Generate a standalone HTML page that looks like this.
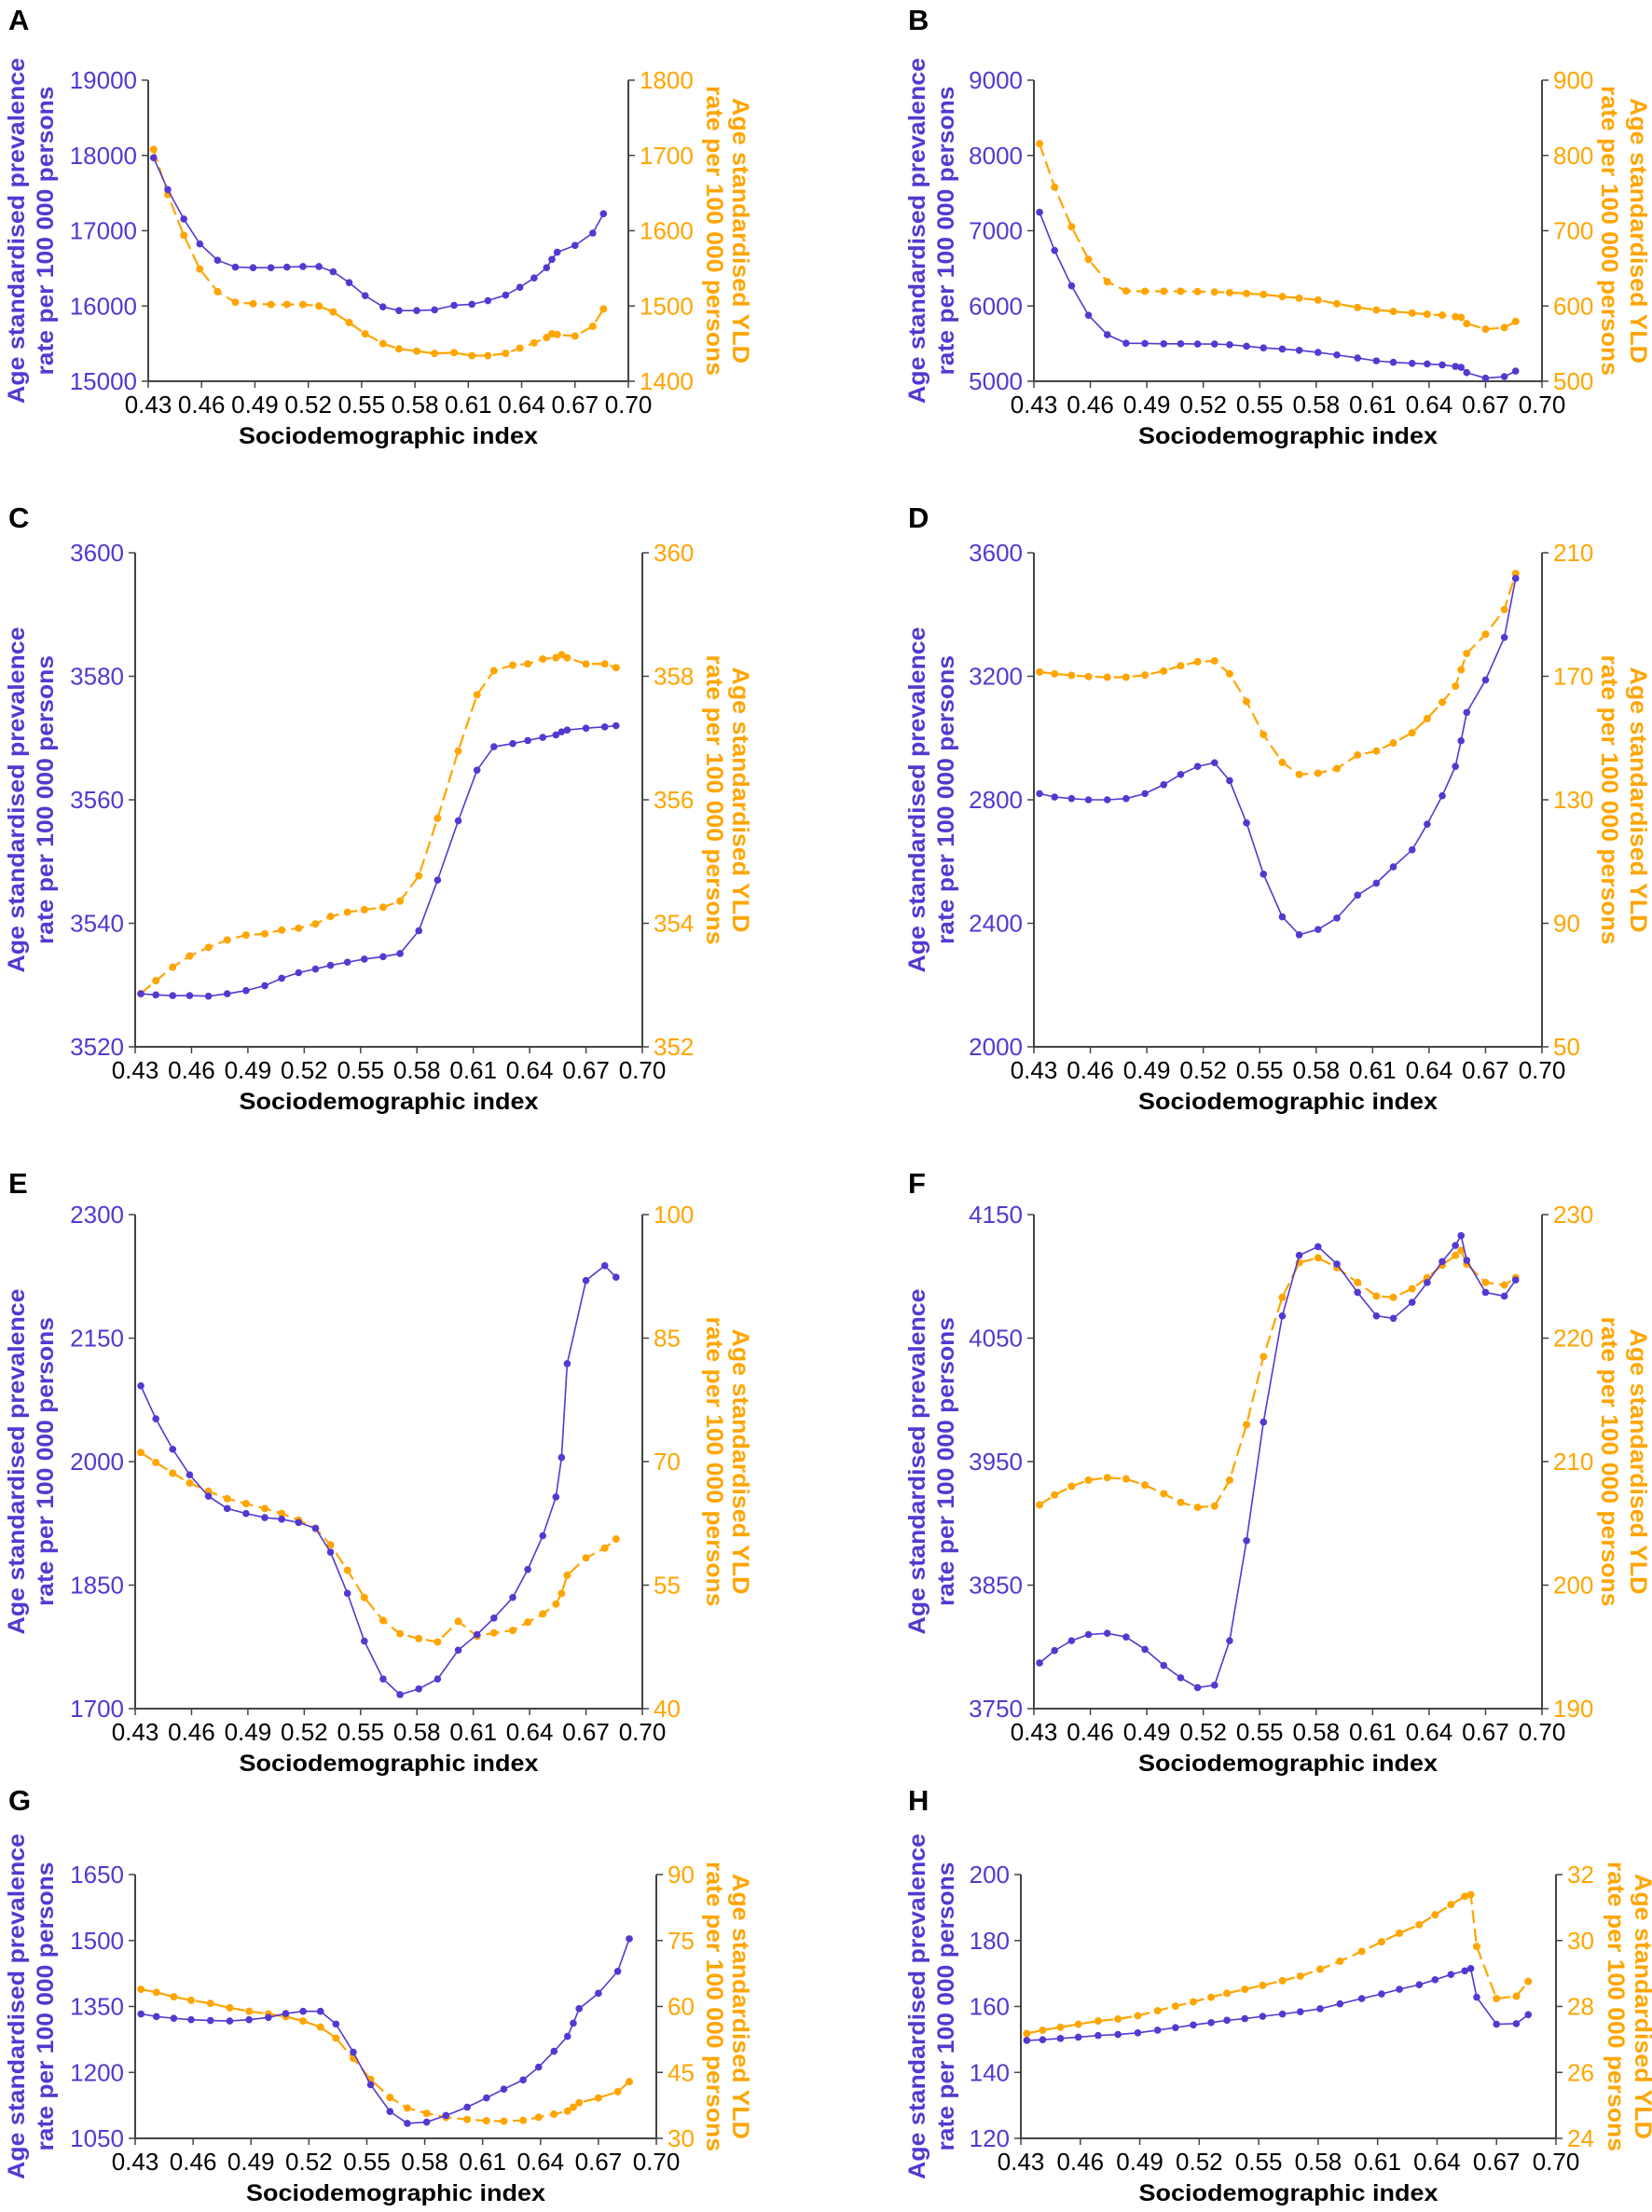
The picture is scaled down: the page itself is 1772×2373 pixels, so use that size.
<!DOCTYPE html>
<html><head><meta charset="utf-8">
<style>
html,body{margin:0;padding:0;background:#fff;}
svg{display:block;font-family:"Liberation Sans",Arial,sans-serif;}
</style></head>
<body>
<svg id="fig" width="1772" height="2373" viewBox="0 0 1772 2373" xmlns="http://www.w3.org/2000/svg"></svg>
<script>
// Shared x values (sociodemographic index)
const sdi=[0.433,0.441,0.450,0.459,0.469,0.479,0.489,0.499,0.508,0.517,0.526,0.534,0.543,0.552,0.562,0.571,0.581,0.591,0.602,0.612,0.621,0.631,0.639,0.647,0.654,0.657,0.660,0.670,0.680,0.686];
const xTicks=[0.43,0.46,0.49,0.52,0.55,0.58,0.61,0.64,0.67,0.70];
const xTickLabels=["0.43","0.46","0.49","0.52","0.55","0.58","0.61","0.64","0.67","0.70"];

// Panel A
const prevA=[17970,17546,17155,16825,16607,16517,16508,16508,16517,16524,16524,16455,16310,16137,15989,15939,15939,15948,16009,16022,16071,16145,16248,16372,16508,16619,16714,16804,16969,17225];
const yldA=[1708,1648,1594,1549,1519,1505,1503,1502,1502,1502,1500,1492,1478,1463,1450,1443,1440,1437,1438,1434,1434,1437,1444,1451,1458,1463,1462,1460,1473,1496];
const leftTicksA=[15000,16000,17000,18000,19000];
const rightTicksA=[1400,1500,1600,1700,1800];
// Panel B
const prevB=[7245,6738,6268,5877,5618,5506,5502,5498,5498,5494,5494,5486,5465,5444,5428,5411,5383,5350,5309,5271,5251,5238,5230,5218,5197,5185,5115,5041,5061,5135];
const yldB=[815.6,757.9,705.2,661.9,632.2,619.9,619.5,619.5,619.5,619.1,618.6,617.8,616.6,615.3,612.5,610.4,607.9,603,598,594.8,592.7,590.6,589,587.7,585.7,584.9,576.6,569.2,571.3,579.5];
const leftTicksB=[5000,6000,7000,8000,9000];
const rightTicksB=[500,600,700,800,900];
// Panel C
const prevC=[3528.6,3528.4,3528.3,3528.3,3528.2,3528.6,3529.1,3529.9,3531.1,3532.0,3532.6,3533.2,3533.7,3534.2,3534.6,3535.1,3538.8,3547.0,3556.6,3564.8,3568.6,3569.1,3569.6,3570.1,3570.5,3571.0,3571.3,3571.6,3571.8,3572.0];
const yldC=[352.86,353.07,353.29,353.47,353.61,353.73,353.81,353.83,353.89,353.92,353.99,354.11,354.18,354.22,354.26,354.36,354.77,355.70,356.79,357.70,358.09,358.18,358.20,358.28,358.30,358.35,358.30,358.20,358.20,358.14];
const leftTicksC=[3520,3540,3560,3580,3600];
const rightTicksC=[352,354,356,358,360];
// Panel D
const prevD=[2820,2809,2804,2800,2800,2804,2820,2849,2882,2908,2920,2862,2725,2559,2421,2363,2380,2417,2491,2530,2583,2638,2721,2813,2908,2991,3083,3188,3326,3517];
const yldD=[171.4,170.8,170.3,169.9,169.7,169.7,170.4,171.7,173.4,174.7,175.0,170.8,161.8,151.1,142.1,138.2,138.6,140.1,144.5,145.8,148.4,151.7,156.3,161.6,166.8,172.1,177.4,183.6,191.6,203.3];
const leftTicksD=[2000,2400,2800,3200,3600];
const rightTicksD=[50,90,130,170,210];
// Panel E
const prevE=[2092,2052,2015,1984,1958,1943,1937,1932,1930,1926,1919,1890,1840,1782,1736,1717,1724,1736,1771,1790,1810,1835,1869,1910,1957,2005,2119,2220,2238,2224];
const yldE=[71.1,69.9,68.6,67.4,66.4,65.5,64.9,64.3,63.7,62.9,61.9,59.9,56.8,53.5,50.7,49.1,48.5,48.1,50.6,48.8,49.2,49.5,50.5,51.5,52.7,54.0,56.2,58.3,59.5,60.6];
const leftTicksE=[1700,1850,2000,2150,2300];
const rightTicksE=[40,55,70,85,100];
// Panel F
const prevF=[3787,3797,3805,3810,3811,3808,3798,3785,3775,3767,3769,3805,3886,3982,4068,4117,4124,4110,4087,4068,4066,4079,4095,4112,4125,4133,4113,4087,4084,4097];
const yldF=[206.5,207.3,208.0,208.5,208.7,208.6,208.1,207.4,206.7,206.3,206.4,208.5,213.0,218.5,223.3,226.1,226.5,225.7,224.5,223.4,223.3,224.0,224.9,225.9,226.7,227.1,226.0,224.5,224.3,224.9];
const leftTicksF=[3750,3850,3950,4050,4150];
const rightTicksF=[190,200,210,220,230];
// Panel G
const prevG=[1333,1327,1323,1320,1318,1317,1320,1325,1334,1339,1339,1310,1246,1172,1111,1084,1087,1102,1121,1142,1162,1183,1212,1248,1282,1312,1345,1380,1430,1504];
const yldG=[63.9,63.2,62.2,61.4,60.7,59.7,58.9,58.3,57.7,56.7,55.3,52.8,48.2,43.4,39.3,36.9,35.7,34.8,34.3,34.0,33.9,34.1,34.8,35.5,36.2,37.1,38.1,39.2,40.6,42.9];
const leftTicksG=[1050,1200,1350,1500,1650];
const rightTicksG=[30,45,60,75,90];
// Panel H
const prevH=[149.7,149.9,150.3,150.7,151.2,151.5,152.0,152.8,153.6,154.4,155.1,155.8,156.3,157.0,157.7,158.4,159.3,160.8,162.4,163.8,165.2,166.6,168.1,169.7,170.8,171.5,162.8,154.6,154.8,157.5];
const yldH=[27.18,27.28,27.37,27.46,27.56,27.62,27.72,27.87,28.01,28.14,28.28,28.40,28.52,28.64,28.78,28.92,29.13,29.37,29.67,29.96,30.22,30.48,30.78,31.09,31.34,31.39,29.82,28.24,28.31,28.76];
const leftTicksH=[120,140,160,180,200];
const rightTicksH=[24,26,28,30,32];

const BLUE="#5538d0", ORANGE="#ffa500", AXIS="#444";
const NS="http://www.w3.org/2000/svg";
const svg=document.getElementById('fig');
function mk(tag,attrs,parent){const e=document.createElementNS(NS,tag);for(const k in attrs)e.setAttribute(k,attrs[k]);(parent||svg).appendChild(e);return e;}

const layout=[
 {id:"A",L:159,R:674,T:86,B:409,lx:9,ly:32,lo1:142,lo2:111,ro1:121,ro2:93,prev:prevA,yld:yldA,lt:leftTicksA,rt:rightTicksA},
 {id:"B",L:1109,R:1654,T:86,B:409,lx:974,ly:32,lo1:126,lo2:95,ro1:104,ro2:73,prev:prevB,yld:yldB,lt:leftTicksB,rt:rightTicksB},
 {id:"C",L:145,R:689,T:593,B:1123,lx:9,ly:566,lo1:128,lo2:97,ro1:106,ro2:78,prev:prevC,yld:yldC,lt:leftTicksC,rt:rightTicksC},
 {id:"D",L:1109,R:1654,T:593,B:1123,lx:974,ly:566,lo1:126,lo2:95,ro1:104,ro2:73,prev:prevD,yld:yldD,lt:leftTicksD,rt:rightTicksD},
 {id:"E",L:145,R:689,T:1303,B:1833,lx:9,ly:1280,lo1:128,lo2:97,ro1:106,ro2:78,prev:prevE,yld:yldE,lt:leftTicksE,rt:rightTicksE},
 {id:"F",L:1109,R:1654,T:1303,B:1833,lx:974,ly:1280,lo1:126,lo2:95,ro1:104,ro2:73,prev:prevF,yld:yldF,lt:leftTicksF,rt:rightTicksF},
 {id:"G",L:145,R:704,T:2011,B:2294,lx:9,ly:1942,lo1:128,lo2:97,ro1:91,ro2:63,prev:prevG,yld:yldG,lt:leftTicksG,rt:rightTicksG},
 {id:"H",L:1095,R:1669,T:2011,B:2294,lx:974,ly:1942,lo1:112,lo2:81,ro1:94,ro2:65,prev:prevH,yld:yldH,lt:leftTicksH,rt:rightTicksH}
];

layout.forEach(p=>{
  const g=mk('g',{});
  
  
  const xs=v=>p.L+(v-0.43)/(0.70-0.43)*(p.R-p.L);
  const yl=v=>p.B-(v-p.lt[0])/(p.lt[p.lt.length-1]-p.lt[0])*(p.B-p.T);
  const yr=v=>p.B-(v-p.rt[0])/(p.rt[p.rt.length-1]-p.rt[0])*(p.B-p.T);

  const lab=mk('text',{x:p.lx,y:p.ly,'font-size':31,'font-weight':'bold',fill:'#000'},g);
  lab.textContent=p.id;
  
  

  // axes
  const ax=mk('path',{d:`M${p.L},${p.T}V${p.B}H${p.R}V${p.T}`,fill:'none',stroke:AXIS,'stroke-width':2},g);
  
  

  xTicks.forEach((t,i)=>{
    const x=xs(t);
    mk('line',{x1:x,y1:p.B,x2:x,y2:p.B+7,stroke:AXIS,'stroke-width':1.5},g);
    const tl=mk('text',{x:x,y:p.B+34,'font-size':26,'text-anchor':'middle',fill:'#000'},g);
    tl.textContent=xTickLabels[i];
    
    
  });
  p.lt.forEach(t=>{
    const y=yl(t);
    mk('line',{x1:p.L-7,y1:y,x2:p.L,y2:y,stroke:AXIS,'stroke-width':1.5},g);
    const tl=mk('text',{x:p.L-12,y:y+9,'font-size':26,'text-anchor':'end',fill:BLUE},g);
    tl.textContent=String(t);
    
    
  });
  p.rt.forEach(t=>{
    const y=yr(t);
    mk('line',{x1:p.R,y1:y,x2:p.R+7,y2:y,stroke:AXIS,'stroke-width':1.5},g);
    const tl=mk('text',{x:p.R+12,y:y+9,'font-size':26,'text-anchor':'start',fill:ORANGE},g);
    tl.textContent=String(t);
    
    
  });

  const cx=(p.L+p.R)/2, cy=(p.T+p.B)/2;
  const xt=mk('text',{x:cx,y:p.B+67,'font-size':25,'font-weight':'bold','text-anchor':'middle',fill:'#000',textLength:321,lengthAdjust:'spacingAndGlyphs'},g);
  xt.textContent="Sociodemographic index";
  
  

  const l1=mk('text',{x:0,y:0,'font-size':25,'font-weight':'bold','text-anchor':'middle',fill:BLUE,textLength:371,lengthAdjust:'spacingAndGlyphs',transform:`translate(${p.L-p.lo1+9},${cy}) rotate(-90)`},g);
  l1.textContent="Age standardised prevalence";
  
  
  const l2=mk('text',{x:0,y:0,'font-size':25,'font-weight':'bold','text-anchor':'middle',fill:BLUE,textLength:310,lengthAdjust:'spacingAndGlyphs',transform:`translate(${p.L-p.lo2+9},${cy}) rotate(-90)`},g);
  l2.textContent="rate per 100 000 persons";
  
  
  const r1=mk('text',{x:0,y:0,'font-size':25,'font-weight':'bold','text-anchor':'middle',fill:ORANGE,textLength:285,lengthAdjust:'spacingAndGlyphs',transform:`translate(${p.R+p.ro1-9},${cy}) rotate(90)`},g);
  r1.textContent="Age standardised YLD";
  
  
  const r2=mk('text',{x:0,y:0,'font-size':25,'font-weight':'bold','text-anchor':'middle',fill:ORANGE,textLength:311,lengthAdjust:'spacingAndGlyphs',transform:`translate(${p.R+p.ro2-9},${cy}) rotate(90)`},g);
  r2.textContent="rate per 100 000 persons";
  
  

  // series
  const yPts=p.yld.map((v,i)=>[xs(sdi[i]),yr(v)]);
  const yLine=mk('polyline',{points:yPts.map(q=>q.join(',')).join(' '),fill:'none',stroke:ORANGE,'stroke-width':2.2,'stroke-dasharray':'14,6'},g);
  
  
  yPts.forEach(q=>{
    const c=mk('circle',{cx:q[0],cy:q[1],r:4,fill:ORANGE},g);
    
    
  });
  const pPts=p.prev.map((v,i)=>[xs(sdi[i]),yl(v)]);
  const pLine=mk('polyline',{points:pPts.map(q=>q.join(',')).join(' '),fill:'none',stroke:BLUE,'stroke-width':1.6},g);
  
  
  pPts.forEach(q=>{
    const c=mk('circle',{cx:q[0],cy:q[1],r:3.8,fill:BLUE},g);
    
    
  });
});
</script>
</body></html>
